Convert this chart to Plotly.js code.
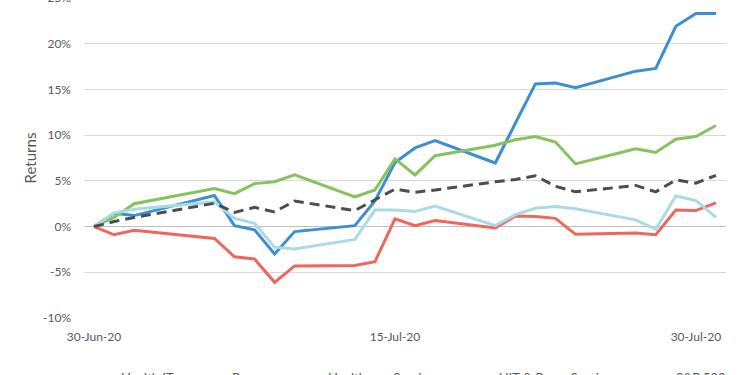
<!DOCTYPE html>
<html>
<head>
<meta charset="utf-8">
<script src="https://cdn.plot.ly/plotly-3.0.1.min.js"></script>
<style>
html,body{margin:0;padding:0;overflow:hidden;width:750px;height:375px;background:#fff;}
#chart{position:absolute;left:0;top:-2px;width:750px;height:400px;}
</style>
</head>
<body>
<div id="chart"></div>
<script>
const dates = ['2020-06-30','2020-07-01','2020-07-02','2020-07-06','2020-07-07','2020-07-08','2020-07-09','2020-07-10','2020-07-13','2020-07-14','2020-07-15','2020-07-16','2020-07-17','2020-07-20','2020-07-21','2020-07-22','2020-07-23','2020-07-24','2020-07-27','2020-07-28','2020-07-29','2020-07-30','2020-07-31'];
const healthIT = [0, 1.45, 1.2, 3.4, 0.1, -0.35, -3.0, -0.55, 0.1, 2.8, 7.0, 8.6, 9.4, 6.95, 11.3, 15.6, 15.7, 15.2, 17.0, 17.3, 21.9, 23.3, 23.3];
const payers = [0, -0.9, -0.4, -1.3, -3.3, -3.55, -6.1, -4.3, -4.25, -3.85, 0.85, 0.1, 0.65, -0.15, 1.15, 1.1, 0.9, -0.85, -0.7, -0.9, 1.8, 1.75, 2.6];
const healthcareServices = [0, 1.0, 2.5, 4.15, 3.6, 4.7, 4.9, 5.65, 3.25, 4.0, 7.4, 5.65, 7.75, 8.9, 9.5, 9.85, 9.25, 6.85, 8.5, 8.1, 9.55, 9.85, 11.05];
const hitPayerServices = [0, 1.5, 1.9, 2.7, 0.9, 0.35, -2.25, -2.45, -1.4, 1.8, 1.8, 1.65, 2.25, 0.1, 1.3, 2.0, 2.2, 1.95, 0.73, -0.3, 3.35, 2.85, 1.0];
const sp500 = [0, 0.55, 1.0, 2.55, 1.55, 2.1, 1.6, 2.8, 1.75, 2.9, 4.1, 3.75, 4.0, 4.9, 5.15, 5.55, 4.4, 3.8, 4.5, 3.8, 5.1, 4.75, 5.6];
const seriesNames = ['Health IT', 'Payers', 'Healthcare Services', 'HIT & Payer Services', 'S&P 500'];
const yTicks = [-10, -5, 0, 5, 10, 15, 20, 25];
const xTicks = ['2020-06-30', '2020-07-15', '2020-07-30'];
const xTickLabels = ['30-Jun-20', '15-Jul-20', '30-Jul-20'];

const colors = ['#3d8fd3', '#f0665c', '#84c35e', '#a9dbe6', '#4d4d4d'];
const values = [healthIT, payers, healthcareServices, hitPayerServices, sp500];

const traces = values.map((v, i) => ({
  x: dates, y: v, name: seriesNames[i], type: 'scatter', mode: 'lines',
  line: {color: colors[i], width: 3, dash: i === 4 ? '10px,6px' : 'solid'}
}));

const font = 'Lato, "Open Sans", sans-serif';
const layout = {
  width: 750, height: 400,
  margin: {l: 84, r: 24, t: 0, b: 80},
  paper_bgcolor: '#fff', plot_bgcolor: '#fff',
  font: {family: font, color: '#595959', size: 12},
  showlegend: true,
  legend: {orientation: 'h', x: -0.025, xanchor: 'left', y: -0.14, yanchor: 'top',
           itemwidth: 43,
           font: {family: font, size: 13, color: '#595959'}, traceorder: 'normal'},
  xaxis: {
    type: 'date', range: ['2020-06-29 12:00', '2020-07-31 12:00'],
    tickmode: 'array', tickvals: xTicks, ticktext: xTickLabels,
    showgrid: false, zeroline: false, showline: false, ticks: '',
    ticklabelstandoff: 10, tickfont: {size: 12, color: '#595959'}
  },
  yaxis: {
    range: [-10, 25], tickmode: 'array', tickvals: yTicks,
    ticktext: yTicks.map(t => t + '%'),
    showgrid: true, gridcolor: '#d9d9d9', gridwidth: 1,
    zeroline: true, zerolinecolor: '#bfbfbf', zerolinewidth: 1.5,
    showline: false, ticks: '', ticklabelstandoff: 12, ticklabeloverflow: 'allow',
    tickfont: {size: 12, color: '#595959'},
    title: {text: 'Returns', standoff: 2, font: {size: 15, color: '#595959'}}
  }
};
Plotly.newPlot('chart', traces, layout, {displayModeBar: false, staticPlot: true});
</script>
</body>
</html>
